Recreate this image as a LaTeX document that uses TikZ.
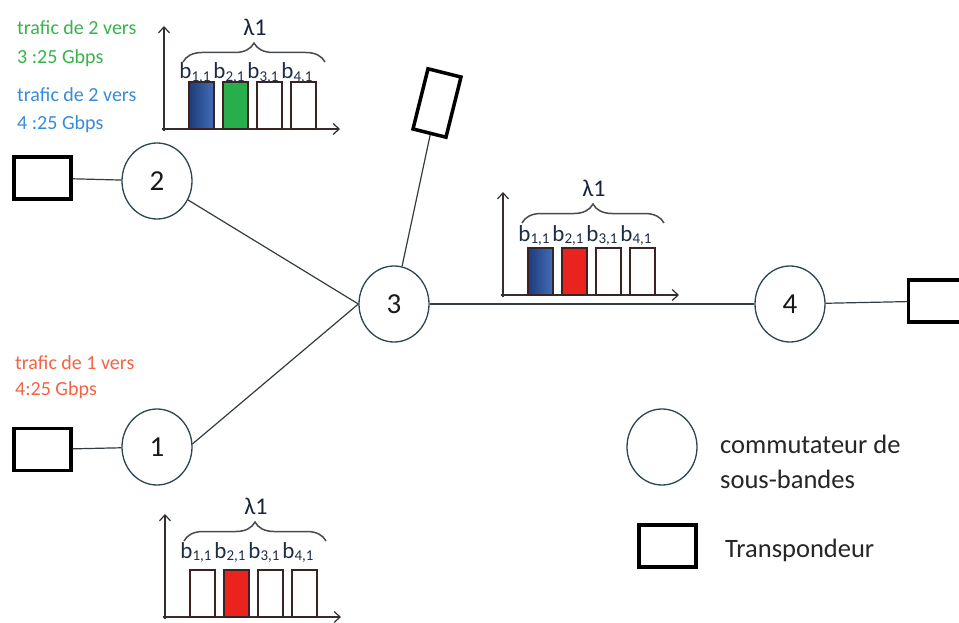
\documentclass[tikz,border=0pt]{standalone}
\usepackage{fontspec}
\setmainfont{Carlito}
\usetikzlibrary{shapes.geometric,decorations.pathreplacing,arrows.meta,calc}

\definecolor{swline}{RGB}{45,70,80}
\definecolor{linkc}{RGB}{50,60,65}
\definecolor{axisc}{RGB}{55,45,45}
\definecolor{barline}{RGB}{60,35,35}
\definecolor{labc}{RGB}{30,45,70}
\definecolor{bracec}{RGB}{70,75,80}
\definecolor{txtgreen}{RGB}{55,180,75}
\definecolor{txtblue}{RGB}{55,140,215}
\definecolor{txtorange}{RGB}{242,100,70}
\definecolor{bargreen}{RGB}{40,175,75}
\definecolor{barred}{RGB}{235,35,30}
\definecolor{bluedark}{RGB}{30,60,120}
\definecolor{bluelight}{RGB}{65,110,185}

\tikzset{
  sw/.style={ellipse, draw=swline, line width=1.3pt, minimum width=70pt, minimum height=76pt,
    inner sep=0pt, fill=white, text=black!90, font=\fontsize{29}{29}\selectfont},
  tp/.style={draw=black, line width=3.5pt, minimum width=57pt, minimum height=42pt, inner sep=0pt, fill=white},
  link/.style={draw=linkc, line width=1.2pt},
  axisline/.style={draw=axisc, line width=1.2pt, -{Straight Barb[length=6pt,width=11pt]}},
  barbox/.style={draw=barline, line width=1.2pt},
  bluebar/.style={barbox, left color=bluedark, right color=bluelight},
  greenbar/.style={barbox, fill=bargreen},
  redbar/.style={barbox, fill=barred},
  emptybar/.style={barbox, fill=white},
  blab/.style={text=labc, anchor=base, inner sep=0pt, font=\fontsize{23}{23}\selectfont},
  lamlab/.style={text=labc!80!black, inner sep=0pt, font=\fontsize{24}{24}\selectfont},
  brc/.style={draw=bracec, line width=1.5pt, decorate, decoration={brace, amplitude=19pt}},
  note/.style={anchor=base west, inner sep=0pt, font=\fontsize{20}{20}\selectfont},
  legtxt/.style={anchor=base west, inner sep=0pt, text=black!85, font=\fontsize{26.5}{26.5}\selectfont},
}

% #1 name, #2 ox, #3 oy, #4 brace lift, #5..#8 bar styles, #9 label lift
\newcommand\bandchart[9]{
  \draw[axisline] ({#2},{#3+2}) -- ({#2},{#3-103});
  \draw[axisline] ({#2-2},{#3}) -- ({#2+176},{#3});
  \draw[#5] ({#2+25},{#3}) rectangle ++(25,{-47});
  \draw[#6] ({#2+59},{#3}) rectangle ++(25,{-47});
  \draw[#7] ({#2+93},{#3}) rectangle ++(25,{-47});
  \draw[#8] ({#2+127},{#3}) rectangle ++(25,{-47});
  \foreach \i in {1,2,3,4}{
    \node[blab] (#1b\i) at ({#2+34*\i-3},{#3-48-#9})
      {b\raisebox{-0.1em}{\fontsize{15}{15}\selectfont\i,1}};
  }
  \draw[brc] ({#2+19},{#3-67-#4}) -- ({#2+161},{#3-67-#4});
  \node[lamlab] (#1lam) at ({#2+91},{#3-102-#4}) {λ1};
}

\begin{document}
\begin{tikzpicture}[x=1pt,y=-1pt]
\useasboundingbox (0,0) rectangle (959,623);
\clip (0,0) rectangle (959,623);
\fill[white] (0,0) rectangle (959,623);

% switches
\node[sw] (n2) at (157,181) {2};
\node[sw] (n1) at (157,447) {1};
\node[sw] (n3) at (394,304) {3};
\node[sw] (n4) at (790,304) {4};

% transponders
\node[tp] (t2) at (42.5,178) {};
\node[tp] (t1) at (42.5,449.5) {};
\node[tp, minimum width=34pt, minimum height=62pt, rotate=-14] (t3) at (437,103) {};
\node[tp] (t4) at (937,301) {};

% links
\draw[link] (t2) -- (n2);
\draw[link] (t1) -- (n1);
\draw[link] (n2) -- (n3.west);
\draw[link] (n1.5) -- (n3.west);
\draw[link] (t3) -- (n3);
\draw[link] (n3) -- (n4);
\draw[link] (n4) -- (t4);

% charts
\bandchart{ca}{164}{129}{0}{bluebar}{greenbar}{emptybar}{emptybar}{2}
\bandchart{cb}{503}{295}{5}{bluebar}{redbar}{emptybar}{emptybar}{6}
\bandchart{cc}{165}{617}{9}{emptybar}{redbar}{emptybar}{emptybar}{11}

% traffic notes
\node[note, text=txtgreen] (g1) at (17,35) {trafic de 2 vers};
\node[note, text=txtgreen] (g2) at (17,64) {3 :25 Gbps};
\node[note, text=txtblue] (b1) at (17,102) {trafic de 2 vers};
\node[note, text=txtblue] (b2) at (17,130) {4 :25 Gbps};
\node[note, text=txtorange] (o1) at (15,369) {trafic de 1 vers};
\node[note, text=txtorange] (o2) at (15,395) {4:25 Gbps};

% legend
\node[sw] (lsw) at (662,447) {};
\node[tp] (ltp) at (667.5,546) {};
\node[legtxt] (l1) at (720,453) {commutateur de};
\node[legtxt] (l2) at (720,488) {sous-bandes};
\node[legtxt] (l3) at (725,557) {Transpondeur};
\end{tikzpicture}
\end{document}
